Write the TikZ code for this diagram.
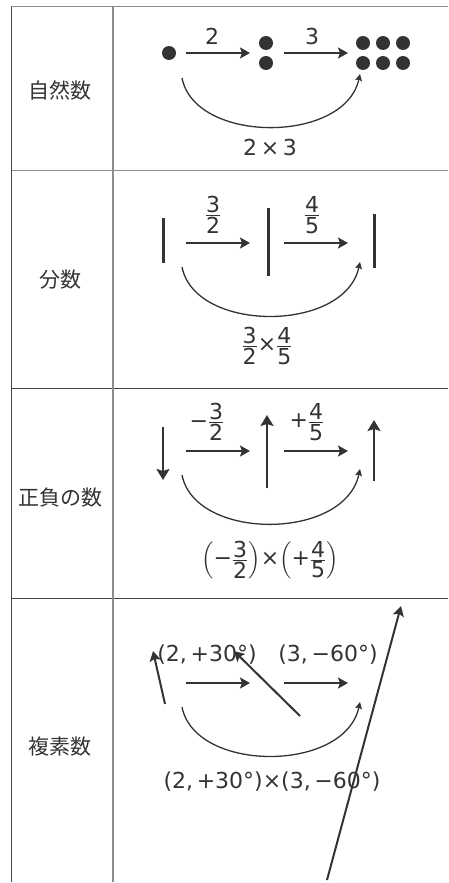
\documentclass[tikz,border=0pt]{standalone}
\usepackage{amsmath}
\usepackage{fontspec}
\usepackage{tikz}
\usetikzlibrary{arrows.meta, positioning}
\setmainfont{DejaVu Sans}
\newfontfamily\jpfont{Noto Sans CJK JP}
\definecolor{ink}{HTML}{333333}
\definecolor{ruledark}{HTML}{444444}
\definecolor{rulelight}{HTML}{8C8C8C}
\newcommand{\fr}[2]{\genfrac{}{}{0.9pt}{1}{\hbox{#1}}{\hbox{#2}}}

\begin{document}
\begin{tikzpicture}[x=1pt, y=-1pt, font=\fontsize{22}{26}\selectfont, text=ink,
        dot/.style={circle, fill=ink, inner sep=0pt, minimum size=14pt},
        bar/.style={draw=ink, line width=3pt},
        arr/.style={-{Stealth[length=10pt,width=11pt,inset=2pt]}, draw=ink, line width=2pt},
        varr/.style={-{Stealth[length=11pt,width=13pt,inset=2pt]}, draw=ink, line width=2.6pt},
        curv/.style={-{Stealth[length=7pt,width=7pt,inset=1.5pt]}, draw=ink, line width=1.3pt},
        lbl/.style={inner sep=0pt},
        rowlbl/.style={inner sep=0pt, font=\jpfont\fontsize{21}{24}\selectfont}]
        \useasboundingbox (0,0) rectangle (448,883);
        % table
        \draw[rulelight, line width=1pt] (11,7) -- (448,7);
        \draw[rulelight, line width=1pt] (11,170) -- (448,170);
        \draw[ruledark, line width=1pt] (11,388) -- (448,388);
        \draw[ruledark, line width=1pt] (11,598) -- (448,598);
        \draw[ruledark, line width=1pt] (11,7) -- (11,882);
        \draw[rulelight, line width=1.3pt] (113,7) -- (113,882);
        \node[rowlbl] (nat) at (60,90) {自然数};
        \node[rowlbl] (frac) at (60,280) {分数};
        \node[rowlbl] (sign) at (60,498) {正負の数};
        \node[rowlbl] (cplx) at (60,747) {複素数};

        % natural numbers
        \node[dot] (one) at (169,53) {};
        \node[dot] (twoa) at (266,43) {};
        \node[dot] (twob) at (266,63) {};
        \node[dot] (sixa) at (363,43) {};
        \node[dot] (sixb) at (383,43) {};
        \node[dot] (sixc) at (403,43) {};
        \node[dot] (sixd) at (363,63) {};
        \node[dot] (sixe) at (383,63) {};
        \node[dot] (sixf) at (403,63) {};
        \coordinate (nA) at (186,53); \coordinate (nB) at (250,53);
        \coordinate (nC) at (284,53); \coordinate (nD) at (348,53);
        \draw[arr] (nA) -- (nB);
        \draw[arr] (nC) -- (nD);
        \node[lbl] (ntwo) at (212,36) {2};
        \node[lbl] (nthree) at (312,36) {3};
        \coordinate (nS) at (182,78); \coordinate (nE) at (360,74);
        \draw[curv] (nS) .. controls (195,144) and (345,144) .. (nE);
        \node[lbl] (nprod) at (270,147) {2\,×\,3};

        % fractions
        \coordinate (fa1) at (163,218); \coordinate (fa2) at (163,263);
        \coordinate (fb1) at (268,208); \coordinate (fb2) at (268,276);
        \coordinate (fc1) at (374,214); \coordinate (fc2) at (374,268);
        \draw[bar] (fa1) -- (fa2);
        \draw[bar] (fb1) -- (fb2);
        \draw[bar] (fc1) -- (fc2);
        \coordinate (fA) at (186,243); \coordinate (fB) at (250,243);
        \coordinate (fC) at (284,243); \coordinate (fD) at (348,243);
        \draw[arr] (fA) -- (fB);
        \draw[arr] (fC) -- (fD);
        \node[lbl] (fthree) at (213,215) {$\fr{3}{2}$};
        \node[lbl] (ffour) at (312,215) {$\fr{4}{5}$};
        \coordinate (fS) at (182,267); \coordinate (fE) at (360,262);
        \draw[curv] (fS) .. controls (195,333) and (345,333) .. (fE);
        \node[lbl] (fprod) at (267,346) {$\fr{3}{2}\hbox{×}\fr{4}{5}$};

        % signed numbers
        \coordinate (sa1) at (163,427); \coordinate (sa2) at (163,480);
        \coordinate (sb1) at (267,488); \coordinate (sb2) at (267,415);
        \coordinate (sc1) at (374,481); \coordinate (sc2) at (374,420);
        \draw[varr] (sa1) -- (sa2);
        \draw[varr] (sb1) -- (sb2);
        \draw[varr] (sc1) -- (sc2);
        \coordinate (sA) at (186,451); \coordinate (sB) at (250,451);
        \coordinate (sC) at (284,451); \coordinate (sD) at (348,451);
        \draw[arr] (sA) -- (sB);
        \draw[arr] (sC) -- (sD);
        \node[lbl] (sneg) at (207,422) {$\hbox{−}\fr{3}{2}$};
        \node[lbl] (spos) at (307,422) {$\hbox{+}\fr{4}{5}$};
        \coordinate (sS) at (182,475); \coordinate (sE) at (360,469);
        \draw[curv] (sS) .. controls (195,541) and (345,541) .. (sE);
        \node[lbl] (sprod) at (270,560) {${\left(\hbox{−}\fr{3}{2}\right)}\hbox{×}{\left(\hbox{+}\fr{4}{5}\right)}$};

        % complex numbers
        \node[lbl] (cfirst) at (207,655) {(2,\,+30°)};
        \node[lbl] (csecond) at (328,655) {(3,\,−60°)};
        \coordinate (ca1) at (165,704); \coordinate (ca2) at (153,651);
        \coordinate (cb1) at (300,716); \coordinate (cb2) at (234,651);
        \coordinate (cc1) at (327,880); \coordinate (cc2) at (401,606);
        \draw[arr] (ca1) -- (ca2);
        \draw[arr] (cb1) -- (cb2);
        \coordinate (cA) at (186,683); \coordinate (cB) at (250,683);
        \coordinate (cC) at (284,683); \coordinate (cD) at (348,683);
        \draw[arr] (cA) -- (cB);
        \draw[arr] (cC) -- (cD);
        \coordinate (cS) at (182,707); \coordinate (cE) at (360,702);
        \draw[curv] (cS) .. controls (195,773) and (345,773) .. (cE);
        \node[lbl] (cprod) at (272,782) {(2,\,+30°)×(3,\,−60°)};
        \draw[arr] (cc1) -- (cc2);
      \end{tikzpicture}
\end{document}
